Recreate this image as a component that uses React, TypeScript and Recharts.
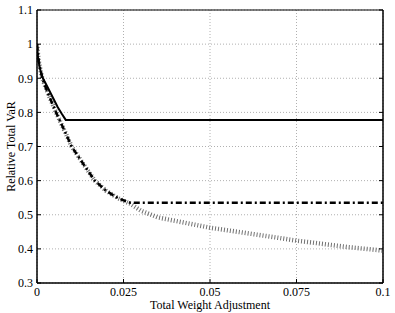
import React from 'react';
import { LineChart, Line, XAxis, YAxis, CartesianGrid, ReferenceArea } from 'recharts';

const xTicks = [0, 0.025, 0.05, 0.075, 0.1];
const xTickLabels = ['0', '0.025', '0.05', '0.075', '0.1'];
const yTicks = [0.3, 0.4, 0.5, 0.6, 0.7, 0.8, 0.9, 1, 1.1];
const yTickLabels = ['0.3', '0.4', '0.5', '0.6', '0.7', '0.8', '0.9', '1', '1.1'];

// Solid series
const solidX = [0, 0.0003, 0.0008, 0.0017, 0.003, 0.0045, 0.006, 0.0072, 0.0083, 0.1];
const solidY = [1.0, 0.96, 0.93, 0.9, 0.875, 0.845, 0.815, 0.795, 0.778, 0.778];

// Dash-dot series
const dashX = [0, 0.0005, 0.0015, 0.003, 0.0055, 0.008, 0.01, 0.0133, 0.0167, 0.02, 0.0235, 0.027, 0.1];
const dashY = [1.0, 0.95, 0.9, 0.86, 0.8, 0.745, 0.7, 0.65, 0.6, 0.57, 0.548, 0.535, 0.535];

// Hatched (dotted) series
const hatchX = [0, 0.0005, 0.0015, 0.003, 0.0055, 0.008, 0.01, 0.0133, 0.0167, 0.02, 0.0235, 0.027, 0.03, 0.035, 0.04, 0.045, 0.05, 0.06, 0.07, 0.075, 0.08, 0.09, 0.1];
const hatchY = [1.0, 0.95, 0.9, 0.86, 0.8, 0.745, 0.7, 0.65, 0.6, 0.57, 0.548, 0.532, 0.512, 0.492, 0.482, 0.472, 0.462, 0.447, 0.432, 0.424, 0.418, 0.405, 0.395];

const toData = (xs: number[], ys: number[]) => xs.map((x, i) => ({ x, y: ys[i] }));
const solidData = toData(solidX, solidY);
const dashData = toData(dashX, dashY);
const hatchData = toData(hatchX, hatchY);

const font = "'Liberation Serif', 'Times New Roman', serif";
const tickStyle = { fontFamily: font, fontSize: 12, fill: '#000' };

const empty = () => <g />;

export default function App() {
  return (
    <div style={{ position: 'absolute', left: 0, top: 0, background: '#fff', fontFamily: font }}>
      <LineChart width={395} height={313} margin={{ top: 10, right: 11, bottom: 0, left: 0 }} style={{ fontFamily: font }}>
        <CartesianGrid stroke="#b0b0b0" strokeDasharray="1 2" horizontalValues={yTicks} verticalValues={xTicks} xAxisId="b" yAxisId="l" />
        <XAxis
          type="number"
          dataKey="x"
          xAxisId="b"
          domain={[0, 0.1]}
          ticks={xTicks}
          tickFormatter={(v: number) => xTickLabels[xTicks.indexOf(v)] ?? String(v)}
          height={30}
          stroke="#000"
          tickSize={-4}
          tickMargin={8}
          tick={tickStyle}
          allowDataOverflow
          label={{ value: 'Total Weight Adjustment', position: 'insideBottom', offset: 4, style: { fontFamily: font, fontSize: 12, fill: '#000' } }}
        />
        <YAxis
          type="number"
          yAxisId="l"
          domain={[0.3, 1.1]}
          ticks={yTicks}
          tickFormatter={(v: number) => yTickLabels[yTicks.findIndex((t) => Math.abs(t - v) < 1e-9)] ?? String(v)}
          width={37}
          stroke="#000"
          tickSize={-4}
          tickMargin={8}
          tick={tickStyle}
          allowDataOverflow
          label={{ value: 'Relative Total VaR', angle: -90, position: 'insideLeft', offset: 11, style: { textAnchor: 'middle', fontFamily: font, fontSize: 12, fill: '#000' } }}
        />
        <YAxis
          type="number"
          yAxisId="r"
          orientation="right"
          domain={[0.3, 1.1]}
          ticks={yTicks}
          width={1}
          stroke="#000"
          tickSize={-4}
          tick={empty}
          allowDataOverflow
        />
        <ReferenceArea xAxisId="b" yAxisId="l" x1={0} x2={0.1} y1={0.3} y2={1.1} fill="none" stroke="#000" strokeWidth={1} ifOverflow="visible" />
        <Line
          xAxisId="b"
          yAxisId="l"
          data={hatchData}
          dataKey="y"
          stroke="#707070"
          strokeWidth={4.5}
          strokeDasharray="1 2"
          dot={false}
          isAnimationActive={false}
        />
        <Line
          xAxisId="b"
          yAxisId="l"
          data={dashData}
          dataKey="y"
          stroke="#000"
          strokeWidth={2.5}
          strokeDasharray="6 3 2 3"
          dot={false}
          isAnimationActive={false}
        />
        <Line
          xAxisId="b"
          yAxisId="l"
          data={solidData}
          dataKey="y"
          stroke="#000"
          strokeWidth={2}
          dot={false}
          isAnimationActive={false}
        />
      </LineChart>
    </div>
  );
}
